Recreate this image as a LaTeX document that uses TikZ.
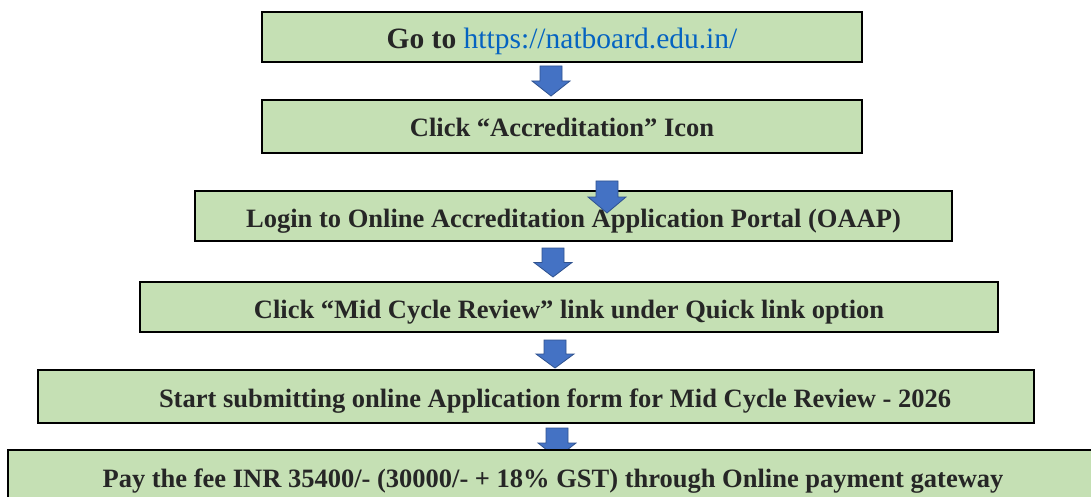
\documentclass[tikz,border=0pt]{standalone}
\usepackage{fontspec}
\setmainfont{Liberation Serif}
\definecolor{boxgreen}{HTML}{C5E0B4}
\definecolor{arrowblue}{HTML}{4472C4}
\definecolor{arrowedge}{HTML}{2F528F}
\definecolor{linkblue}{HTML}{0563C1}
\definecolor{textdark}{HTML}{262626}
\newcommand{\blockarrow}[4]{% name, center x, top y, tip y
  \path[arrowstyle] (#2-11,#3) -- (#2+11,#3) -- (#2+11,{#3+0.5*(#4-#3)}) -- (#2+19,{#3+0.5*(#4-#3)})
    -- (#2,#4) -- (#2-19,{#3+0.5*(#4-#3)}) -- (#2-11,{#3+0.5*(#4-#3)}) -- cycle;
  \coordinate (#1) at (#2,#4);}
\newcommand{\lowertext}[2]{\raisebox{-#1pt}[\height][\depth]{#2}}
\begin{document}
\begin{tikzpicture}[x=1pt,y=-1pt,
  stepbox/.style={draw=black, line width=2.5pt, fill=boxgreen, inner sep=0pt,
     font=\bfseries\fontsize{26.5}{30}\selectfont, text=textdark},
  arrowstyle/.style={fill=arrowblue, draw=arrowedge, line width=0.8pt, line join=miter}]
\useasboundingbox (0,0) rectangle (1091,497);
\clip (0,0) rectangle (1091,497);
\fill[white] (0,0) rectangle (1091,497);

\node[stepbox, minimum width=600pt, minimum height=50pt, font=\bfseries\fontsize{29.5}{33}\selectfont] (b1) at (562,37)
  {\lowertext{4}{Go to \textcolor{linkblue}{\mdseries https://natboard.edu.in/}}};
\blockarrow{a1}{551}{66}{96}
\node[stepbox, minimum width=600pt, minimum height=53pt] (b2) at (562,126.5) {\lowertext{1}{Click “Accreditation” Icon}};
\node[stepbox, minimum width=757pt, minimum height=50pt] (b3) at (573.5,216) {\lowertext{5}{Login to Online Accreditation Application Portal (OAAP)}};
\blockarrow{a2}{607}{181}{213}
\blockarrow{a3}{553}{248}{277}
\node[stepbox, minimum width=858pt, minimum height=50pt] (b4) at (569,307) {\lowertext{5}{Click “Mid Cycle Review” link under Quick link option}};
\blockarrow{a4}{555}{340}{368}
\node[stepbox, minimum width=996pt, minimum height=53pt] (b5) at (536,396.5) {\hspace*{38pt}\lowertext{5}{Start submitting online Application form for Mid Cycle Review - 2026}};
\blockarrow{a5}{557}{428}{458}
\node[stepbox, minimum width=1090pt, minimum height=60pt] (b6) at (553,480) {\lowertext{1}{Pay the fee INR 35400/- (30000/- + 18\% GST) through Online payment gateway}};
\end{tikzpicture}
\end{document}
